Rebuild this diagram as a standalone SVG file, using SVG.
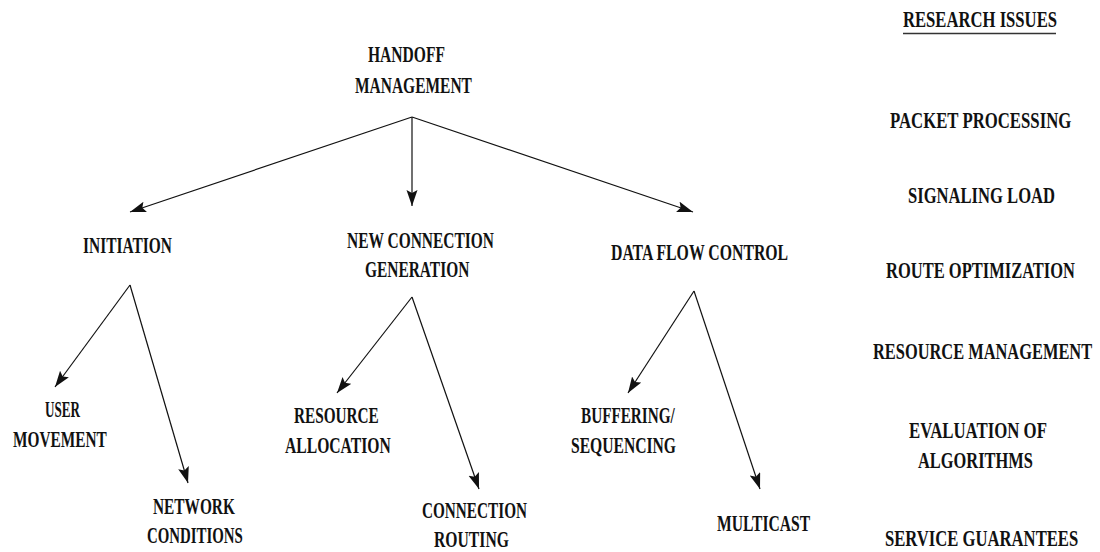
<svg xmlns="http://www.w3.org/2000/svg" width="1100" height="552" viewBox="0 0 1100 552">
  <style>
    text { font-family: "Liberation Serif", "Times New Roman", serif; font-weight: bold; font-size: 23px; fill: #111; }
    .edge { stroke: #111; stroke-width: 1.2; fill: none; marker-end: url(#head); }
  </style>
  <defs>
    <marker id="head" markerUnits="userSpaceOnUse" markerWidth="18" markerHeight="12" refX="16" refY="5.5" orient="auto">
      <path d="M0,0 L16,5.5 L0,11 L3,5.5 Z" fill="#111"/>
    </marker>
  </defs>
  <rect width="1100" height="552" fill="#fff"/>

  <g id="connectors">
    <line class="edge" x1="412" y1="117" x2="130" y2="212"/>
    <line class="edge" x1="412" y1="117" x2="412" y2="206"/>
    <line class="edge" x1="412" y1="117" x2="693" y2="212"/>
    <line class="edge" x1="130" y1="285" x2="55" y2="387"/>
    <line class="edge" x1="130" y1="285" x2="188" y2="483"/>
    <line class="edge" x1="412" y1="297" x2="337" y2="393"/>
    <line class="edge" x1="412" y1="297" x2="479" y2="489"/>
    <line class="edge" x1="694" y1="291" x2="628" y2="393"/>
    <line class="edge" x1="694" y1="291" x2="760" y2="489"/>
  </g>

  <!-- labels are set in a narrowed bold serif: scale(0.7,1) with textLength = width / 0.7 -->
  <g id="handoff-management">
    <text transform="translate(368,62) scale(0.7,1)" textLength="110" lengthAdjust="spacingAndGlyphs">HANDOFF</text>
    <text transform="translate(355,93) scale(0.7,1)" textLength="167" lengthAdjust="spacingAndGlyphs">MANAGEMENT</text>
  </g>
  <g id="initiation">
    <text transform="translate(83,253) scale(0.7,1)" textLength="127" lengthAdjust="spacingAndGlyphs">INITIATION</text>
  </g>
  <g id="new-connection-generation">
    <text transform="translate(347,248) scale(0.7,1)" textLength="210" lengthAdjust="spacingAndGlyphs">NEW CONNECTION</text>
    <text transform="translate(365,277) scale(0.7,1)" textLength="149" lengthAdjust="spacingAndGlyphs">GENERATION</text>
  </g>
  <g id="data-flow-control">
    <text transform="translate(611,260) scale(0.7,1)" textLength="253" lengthAdjust="spacingAndGlyphs">DATA FLOW CONTROL</text>
  </g>
  <g id="user-movement">
    <text transform="translate(45,417) scale(0.7,1)" textLength="50" lengthAdjust="spacingAndGlyphs">USER</text>
    <text transform="translate(13,447) scale(0.7,1)" textLength="134" lengthAdjust="spacingAndGlyphs">MOVEMENT</text>
  </g>
  <g id="network-conditions">
    <text transform="translate(153,514) scale(0.7,1)" textLength="117" lengthAdjust="spacingAndGlyphs">NETWORK</text>
    <text transform="translate(147,543) scale(0.7,1)" textLength="137" lengthAdjust="spacingAndGlyphs">CONDITIONS</text>
  </g>
  <g id="resource-allocation">
    <text transform="translate(294,423) scale(0.7,1)" textLength="121" lengthAdjust="spacingAndGlyphs">RESOURCE</text>
    <text transform="translate(285,453) scale(0.7,1)" textLength="151" lengthAdjust="spacingAndGlyphs">ALLOCATION</text>
  </g>
  <g id="connection-routing">
    <text transform="translate(422,518) scale(0.7,1)" textLength="150" lengthAdjust="spacingAndGlyphs">CONNECTION</text>
    <text transform="translate(434,547) scale(0.7,1)" textLength="107" lengthAdjust="spacingAndGlyphs">ROUTING</text>
  </g>
  <g id="buffering-sequencing">
    <text transform="translate(581,423) scale(0.7,1)" textLength="134" lengthAdjust="spacingAndGlyphs">BUFFERING/</text>
    <text transform="translate(571,453) scale(0.7,1)" textLength="150" lengthAdjust="spacingAndGlyphs">SEQUENCING</text>
  </g>
  <g id="multicast">
    <text transform="translate(717,531) scale(0.7,1)" textLength="133" lengthAdjust="spacingAndGlyphs">MULTICAST</text>
  </g>

  <g id="research-issues">
    <text transform="translate(903,27) scale(0.7,1)" textLength="220" lengthAdjust="spacingAndGlyphs">RESEARCH ISSUES</text>
    <line x1="903" y1="33.5" x2="1056" y2="33.5" stroke="#333" stroke-width="1.5"/>
    <text transform="translate(890,128) scale(0.7,1)" textLength="259" lengthAdjust="spacingAndGlyphs">PACKET PROCESSING</text>
    <text transform="translate(908,203) scale(0.7,1)" textLength="210" lengthAdjust="spacingAndGlyphs">SIGNALING LOAD</text>
    <text transform="translate(886,278) scale(0.7,1)" textLength="270" lengthAdjust="spacingAndGlyphs">ROUTE OPTIMIZATION</text>
    <text transform="translate(873,359) scale(0.7,1)" textLength="313" lengthAdjust="spacingAndGlyphs">RESOURCE MANAGEMENT</text>
    <text transform="translate(909,438) scale(0.7,1)" textLength="197" lengthAdjust="spacingAndGlyphs">EVALUATION OF</text>
    <text transform="translate(918,468) scale(0.7,1)" textLength="164" lengthAdjust="spacingAndGlyphs">ALGORITHMS</text>
    <text transform="translate(885,546) scale(0.7,1)" textLength="276" lengthAdjust="spacingAndGlyphs">SERVICE GUARANTEES</text>
  </g>
</svg>
